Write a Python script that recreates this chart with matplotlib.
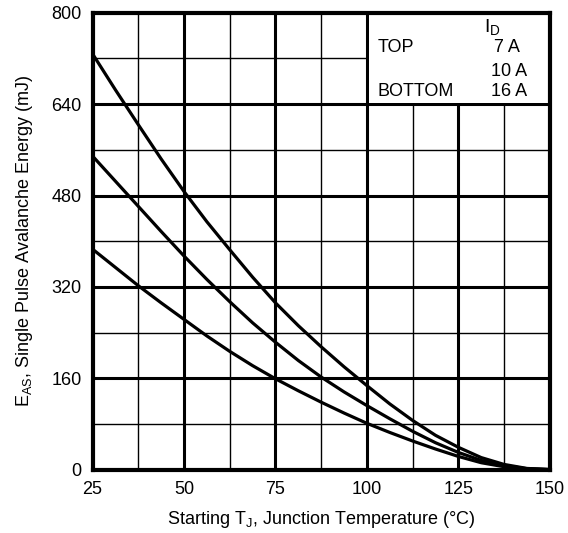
import numpy as np
import matplotlib
matplotlib.use('Agg')
import matplotlib.pyplot as plt
from matplotlib.patches import Rectangle

plt.rcParams['font.family'] = 'Liberation Sans'
plt.rcParams['mathtext.default'] = 'regular'

# Temperatura inicial da junção (°C)
tj = [25, 31.25, 37.5, 43.75, 50, 56.25, 62.5, 68.75, 75, 81.25, 87.5,
      93.75, 100, 106.25, 112.5, 118.75, 125, 131.25, 137.5, 143.75, 150]

# Energia de avalanche (mJ) para cada corrente I_D
eas_7a = [728, 665, 604, 544, 487, 434, 385, 337, 292, 252, 215,
          180, 147, 115, 86, 60, 39, 21, 9, 2, 0]
eas_10a = [549, 505, 461, 417, 374, 333, 294, 257, 223, 191, 162,
           136, 112, 89, 67, 47, 30, 16, 7, 1.5, 0]
eas_16a = [386, 354, 322, 292, 263, 234, 207, 182, 159, 138, 118,
           99, 81, 65, 50, 36, 23, 12, 5, 1, 0]

x_ticks = [25, 50, 75, 100, 125, 150]
y_ticks = [0, 160, 320, 480, 640, 800]

fig = plt.figure(figsize=(5.68, 5.33), dpi=100)
ax = fig.add_axes([0.163, 0.119, 0.805, 0.857])

# Grade: linhas principais grossas, secundárias finas
for x in [37.5, 62.5, 87.5, 112.5, 137.5]:
    ax.axvline(x, color='black', linewidth=1.0, zorder=1)
for y in [80, 240, 400, 560, 720]:
    ax.axhline(y, color='black', linewidth=1.0, zorder=1)
for x in [50, 75, 100, 125]:
    ax.axvline(x, color='black', linewidth=2.2, zorder=1)
for y in [160, 320, 480, 640]:
    ax.axhline(y, color='black', linewidth=2.2, zorder=1)

# Caixa branca da legenda
ax.add_patch(Rectangle((100.45, 642.8), 49.55, 157.2, facecolor='white',
                       edgecolor='none', zorder=1.5))

for e in [eas_7a, eas_10a, eas_16a]:
    ax.plot(tj, e, color='black', linewidth=2.3, zorder=3,
            solid_joinstyle='round')

fs = 13
ax.text(102.8, 740, 'TOP', fontsize=fs, va='center', ha='left', zorder=4)
ax.text(141.8, 740, '7 A', fontsize=fs, va='center', ha='right', zorder=4)
ax.text(143.7, 698, '10 A', fontsize=fs, va='center', ha='right', zorder=4)
ax.text(102.8, 662, 'BOTTOM', fontsize=fs, va='center', ha='left', zorder=4)
ax.text(143.7, 662, '16 A', fontsize=fs, va='center', ha='right', zorder=4)
ax.text(136.5, 775, '$I_D$', fontsize=14, va='center', ha='right', zorder=4)

ax.set_xlim(25, 150)
ax.set_ylim(0, 800)
ax.set_xticks(x_ticks)
ax.set_yticks(y_ticks)
ax.tick_params(length=0, labelsize=13, pad=8)
for s in ax.spines.values():
    s.set_linewidth(3)
    s.set_zorder(5)

ax.set_xlabel('Starting $T_J$, Junction Temperature (°C)', fontsize=13, labelpad=8)
ax.set_ylabel('$E_{AS}$, Single Pulse Avalanche Energy (mJ)', fontsize=13, labelpad=12)

fig.savefig('out.png', dpi=100)
